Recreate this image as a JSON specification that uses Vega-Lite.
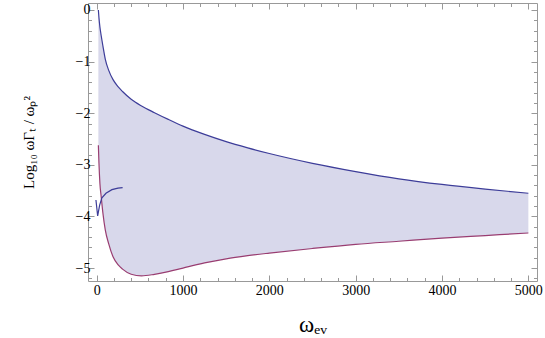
{
  "$schema": "https://vega.github.io/schema/vega-lite/v6.json",
  "width": 449,
  "height": 278,
  "autosize": "none",
  "padding": {"left": 88, "top": 3, "right": 8, "bottom": 57},
  "background": "white",
  "config": {
    "view": {"stroke": "#999999", "strokeWidth": 1},
    "axis": {
      "labelFont": "Liberation Serif",
      "titleFont": "Liberation Serif",
      "labelFontSize": 14,
      "labelColor": "black",
      "tickColor": "#999999",
      "tickWidth": 1,
      "domain": false,
      "grid": false,
      "titleFontWeight": "normal",
      "titleColor": "black",
      "labelFlush": false,
      "labelOverlap": false
    }
  },
  "datasets": {
    "bounds": [
      {"x": 20, "upper": 0.0, "lower": -2.62},
      {"x": 27, "upper": -0.15, "lower": -2.97},
      {"x": 38, "upper": -0.33, "lower": -3.36},
      {"x": 53, "upper": -0.5, "lower": -3.62},
      {"x": 73, "upper": -0.7, "lower": -3.94},
      {"x": 100, "upper": -0.95, "lower": -4.26},
      {"x": 140, "upper": -1.17, "lower": -4.53},
      {"x": 190, "upper": -1.35, "lower": -4.78},
      {"x": 250, "upper": -1.49, "lower": -4.94},
      {"x": 300, "upper": -1.58, "lower": -5.02},
      {"x": 400, "upper": -1.73, "lower": -5.12},
      {"x": 520, "upper": -1.86, "lower": -5.15},
      {"x": 670, "upper": -1.99, "lower": -5.12},
      {"x": 830, "upper": -2.12, "lower": -5.07},
      {"x": 1000, "upper": -2.25, "lower": -5.0},
      {"x": 1250, "upper": -2.41, "lower": -4.9},
      {"x": 1500, "upper": -2.55, "lower": -4.82},
      {"x": 1750, "upper": -2.67, "lower": -4.76},
      {"x": 2000, "upper": -2.78, "lower": -4.71},
      {"x": 2500, "upper": -2.97, "lower": -4.62},
      {"x": 3000, "upper": -3.13, "lower": -4.54},
      {"x": 3500, "upper": -3.27, "lower": -4.48},
      {"x": 4000, "upper": -3.38, "lower": -4.42},
      {"x": 4500, "upper": -3.47, "lower": -4.37},
      {"x": 5000, "upper": -3.55, "lower": -4.32}
    ],
    "hook": [
      {"i": 1, "x": -8, "y": -3.68},
      {"i": 2, "x": 12, "y": -3.99},
      {"i": 3, "x": 35, "y": -3.78},
      {"i": 4, "x": 61, "y": -3.64},
      {"i": 5, "x": 108, "y": -3.55},
      {"i": 6, "x": 177, "y": -3.48},
      {"i": 7, "x": 247, "y": -3.45},
      {"i": 8, "x": 301, "y": -3.44}
    ]
  },
  "layer": [
    {
      "data": {"name": "bounds"},
      "mark": {"type": "area", "color": "#d8d8eb", "opacity": 1, "interpolate": "monotone"},
      "encoding": {
        "x": {
          "field": "x", "type": "quantitative",
          "scale": {"domain": [-100, 5100], "nice": false, "zero": false},
          "axis": {
            "orient": "bottom",
            "values": [0,200,400,600,800,1000,1200,1400,1600,1800,2000,2200,2400,2600,2800,3000,3200,3400,3600,3800,4000,4200,4400,4600,4800,5000],
            "labelExpr": "datum.value % 1000 === 0 ? datum.label : ''",
            "format": "d",
            "tickSize": {"condition": {"test": "datum.value % 1000 === 0", "value": -6}, "value": -3.5},
            "labelPadding": 8,
            "title": "ωₑᵥ",
            "titleFontSize": 23,
            "titleX": 224.5,
            "titleY": 50,
            "titleAlign": "center",
            "titleBaseline": "alphabetic"
          }
        },
        "y": {
          "field": "upper", "type": "quantitative",
          "scale": {"domain": [-5.25, 0.135], "nice": false, "zero": false},
          "axis": {
            "orient": "left",
            "values": [-5.2,-5,-4.8,-4.6,-4.4,-4.2,-4,-3.8,-3.6,-3.4,-3.2,-3,-2.8,-2.6,-2.4,-2.2,-2,-1.8,-1.6,-1.4,-1.2,-1,-0.8,-0.6,-0.4,-0.2,0],
            "labelExpr": "abs(datum.value - round(datum.value)) < 0.01 ? format(datum.value, 'd') : ''",
            "tickSize": {"condition": {"test": "abs(datum.value - round(datum.value)) < 0.01", "value": -6}, "value": -3.5},
            "labelPadding": 4,
            "title": "Log₁₀ ωΓₜ / ωₚ²",
            "titleFontSize": 15,
            "titleAngle": -90,
            "titleX": -60,
            "titleY": 139,
            "titleAlign": "center",
            "titleBaseline": "middle"
          }
        },
        "y2": {"field": "lower"}
      }
    },
    {
      "data": {"name": "bounds"},
      "mark": {"type": "line", "color": "#3d3d99", "strokeWidth": 1.2, "interpolate": "monotone"},
      "encoding": {
        "x": {
          "field": "x", "type": "quantitative",
          "scale": {"domain": [-100, 5100], "nice": false, "zero": false},
          "axis": {
            "orient": "top",
            "values": [0,200,400,600,800,1000,1200,1400,1600,1800,2000,2200,2400,2600,2800,3000,3200,3400,3600,3800,4000,4200,4400,4600,4800,5000],
            "labels": false,
            "tickSize": {"condition": {"test": "datum.value % 1000 === 0", "value": -6}, "value": -3.5},
            "title": null
          }
        },
        "y": {
          "field": "upper", "type": "quantitative",
          "scale": {"domain": [-5.25, 0.135], "nice": false, "zero": false},
          "axis": {
            "orient": "right",
            "values": [-5.2,-5,-4.8,-4.6,-4.4,-4.2,-4,-3.8,-3.6,-3.4,-3.2,-3,-2.8,-2.6,-2.4,-2.2,-2,-1.8,-1.6,-1.4,-1.2,-1,-0.8,-0.6,-0.4,-0.2,0],
            "labels": false,
            "tickSize": {"condition": {"test": "abs(datum.value - round(datum.value)) < 0.01", "value": -6}, "value": -3.5},
            "title": null
          }
        }
      }
    },
    {
      "data": {"name": "bounds"},
      "mark": {"type": "line", "color": "#993d71", "strokeWidth": 1.2, "interpolate": "monotone"},
      "encoding": {
        "x": {"field": "x", "type": "quantitative", "scale": {"domain": [-100, 5100], "nice": false, "zero": false}, "axis": null},
        "y": {"field": "lower", "type": "quantitative", "scale": {"domain": [-5.25, 0.135], "nice": false, "zero": false}, "axis": null}
      }
    },
    {
      "data": {"name": "hook"},
      "mark": {"type": "line", "color": "#3d3d99", "strokeWidth": 1.2, "interpolate": "linear"},
      "encoding": {
        "x": {"field": "x", "type": "quantitative", "scale": {"domain": [-100, 5100], "nice": false, "zero": false}, "axis": null},
        "y": {"field": "y", "type": "quantitative", "scale": {"domain": [-5.25, 0.135], "nice": false, "zero": false}, "axis": null},
        "order": {"field": "i"}
      }
    }
  ],
  "resolve": {
    "scale": {"x": "independent", "y": "independent"},
    "axis": {"x": "independent", "y": "independent"}
  }
}
